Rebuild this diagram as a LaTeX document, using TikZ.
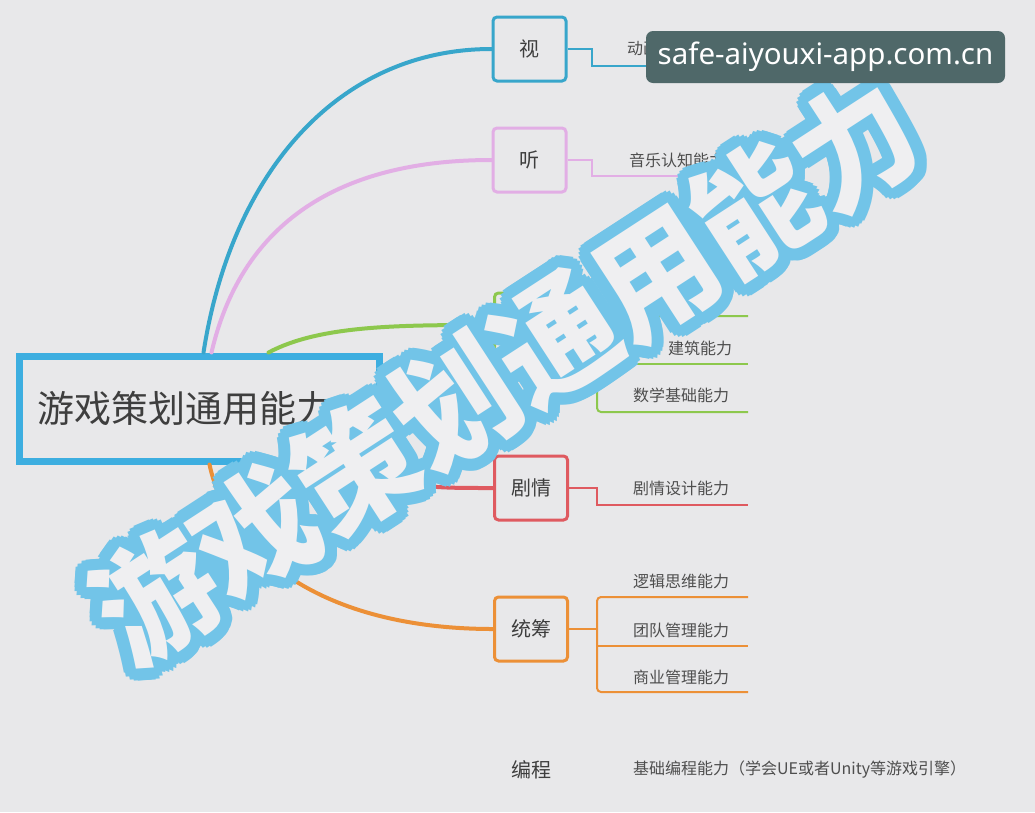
\documentclass[tikz,border=0pt]{standalone}
\usepackage{fontspec}
\newfontfamily\cjk{Noto Sans CJK SC}
\newfontfamily\latinsans{Noto Sans}
\definecolor{bgc}{HTML}{E8E8EA}
\definecolor{cblue}{HTML}{38A6CB}
\definecolor{croot}{HTML}{3DAEE0}
\definecolor{cpink}{HTML}{E2AEE5}
\definecolor{cgreen}{HTML}{8DC84D}
\definecolor{cred}{HTML}{DF5A60}
\definecolor{corange}{HTML}{EC9037}
\definecolor{ctext}{HTML}{3E3E3E}
\definecolor{clbl}{HTML}{4E4E4E}
\definecolor{wmblue}{HTML}{72C4E8}
\definecolor{wmfill}{HTML}{EFEFF1}
\definecolor{sitebg}{HTML}{4F6869}
\tikzset{
  catbox/.style={draw=#1, line width=3pt, rounded corners=4pt, minimum width=73pt, minimum height=64pt, inner sep=0pt, font=\cjk\fontsize{20}{20}\selectfont, text=ctext},
  lbl/.style={anchor=west, inner sep=0pt, font=\cjk\fontsize{16}{16}\selectfont, text=clbl},
  branch/.style={draw=#1, line width=4pt, line cap=round},
  sub/.style={draw=#1, line width=2pt},
  wmout/.style={text=wmblue, inner sep=0pt, rotate=33, yscale=1.06, font=\cjk\bfseries\fontsize{119}{119}\selectfont},
  wmin/.style={text=wmfill, inner sep=0pt, rotate=33, yscale=1.06, font=\cjk\bfseries\fontsize{119}{119}\selectfont},
}
\begin{document}
\begin{tikzpicture}[x=1pt,y=-1pt]
\useasboundingbox (0,0) rectangle (1035,812);
\fill[bgc] (0,0) rectangle (1035,812);

% root
\node[draw=croot, line width=7pt, minimum width=360pt, minimum height=105pt, inner xsep=18pt, text width=324pt, align=left, font=\cjk\fontsize{37}{37}\selectfont, text=ctext] (root) at (199,408.5) {游戏策划通用能力};

% category boxes
\node[catbox=cblue] (shi) at (529.5,49) {视};
\node[catbox=cpink] (ting) at (529.5,160) {听};
\node[catbox=cgreen] (kong) at (531,325) {};
\node[catbox=cred] (juqing) at (531,488) {剧情};
\node[catbox=corange] (tongchou) at (531,629) {统筹};
\node[inner sep=0pt, font=\cjk\fontsize{20}{20}\selectfont, text=ctext] (biancheng) at (531,770) {编程};

% branches from root
\draw[branch=cblue] ([xshift=188pt]root.north west) .. controls (232,170) and (340,49) .. (shi.west);
\draw[branch=cpink] ([xshift=196pt]root.north west) .. controls (240,230) and (330,160) .. (ting.west);
\draw[branch=cgreen] ([xshift=253pt]root.north west) .. controls (320,325) and (400,325) .. (kong.west);
\draw[branch=cred] ([yshift=-12pt]root.south east) .. controls (420,488) and (440,488) .. (juqing.west);
\draw[branch=corange] ([xshift=194pt]root.south west) .. controls (230,560) and (330,629) .. (tongchou.west);

% sub lines
\coordinate (e1) at (750,66);
\coordinate (e2) at (748,176);
\coordinate (g1) at (748,316);
\coordinate (g2) at (748,364);
\coordinate (g3) at (748,412);
\coordinate (r1) at (748,505);
\coordinate (o1) at (748,597);
\coordinate (o2) at (748,646);
\coordinate (o3) at (748,692);

\draw[sub=cblue] (shi.east) -- (592,49) |- (e1);
\draw[sub=cpink] (ting.east) -- (592,160) |- (e2);
\draw[sub=cgreen] (kong.east) -- (597,325);
\draw[sub=cgreen, rounded corners=4pt] (g1) -- (597,316) -- (597,412) -- (g3);
\draw[sub=cgreen] (597,364) -- (g2);
\draw[sub=cred] (juqing.east) -- (597,488) |- (r1);
\draw[sub=corange] (tongchou.east) -- (597,629);
\draw[sub=corange, rounded corners=4pt] (o1) -- (597,597) -- (597,692) -- (o3);
\draw[sub=corange] (597,646) -- (o2);

% labels
\node[lbl] (l1) at (627,49) {动画/图形学能力};
\node[lbl] (l2) at (629,160) {音乐认知能力};
\node[lbl] (l3) at (668,348) {建筑能力};
\node[lbl] (l4) at (633,395) {数学基础能力};
\node[lbl] (l5) at (633,488) {剧情设计能力};
\node[lbl] (l6) at (633,581) {逻辑思维能力};
\node[lbl] (l7) at (633,630) {团队管理能力};
\node[lbl] (l8) at (633,677) {商业管理能力};
\node[lbl] (l9) at (633,770) {基础编程能力（学会UE或者Unity等游戏引擎）};

% watermark
\coordinate (wmc) at (505,370);
\foreach \a [count=\i] in {0,20,...,340} {
  \node[wmout] (wmo\i) at ([shift={(\a:12pt)}]wmc) {游戏策划通用能力};
}
\foreach \a [count=\i] in {0,45,...,315} {
  \node[wmout] (wmp\i) at ([shift={(\a:6pt)}]wmc) {游戏策划通用能力};
}
\node[wmin] (wm) at (wmc) {游戏策划通用能力};

% site label
\node[fill=sitebg, rounded corners=7pt, minimum width=359pt, minimum height=52pt, inner sep=0pt, text=white, font=\latinsans\fontsize{29.5}{29.5}\selectfont] (site) at (825.5,57) {safe-aiyouxi-app.com.cn};
\end{tikzpicture}
\end{document}
